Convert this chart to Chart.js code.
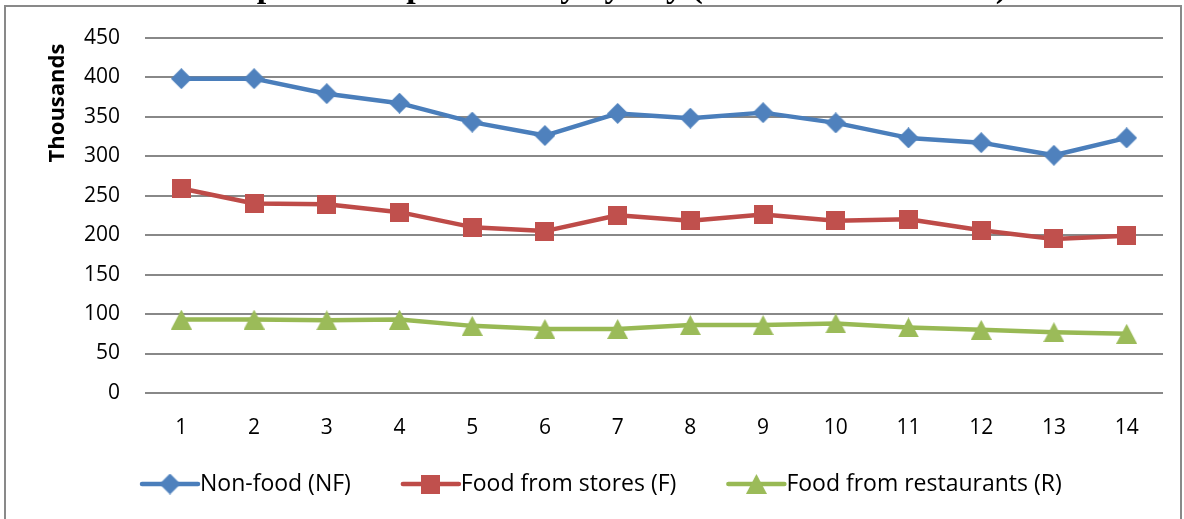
<!DOCTYPE html>
<html>
<head>
<meta charset="utf-8">
<script src="https://cdn.jsdelivr.net/npm/chart.js@4.4.1/dist/chart.umd.min.js"></script>
<style>
  html, body { margin: 0; padding: 0; background: #fff; overflow: hidden; }
  #wrap { width: 1184px; height: 519px; position: relative; }
</style>
</head>
<body>
<div id="wrap"><canvas id="c" width="1184" height="519"></canvas></div>
<script>
// Daily expenditure, in thousands
const days = ['1', '2', '3', '4', '5', '6', '7', '8', '9', '10', '11', '12', '13', '14'];
const nonFood = [398, 398, 379, 367, 343, 326, 354, 348, 355, 342, 323, 317, 301, 323];
const foodStores = [259, 240, 239, 229, 210, 205, 225, 218, 226, 218, 220, 206, 195, 199];
const foodRestaurants = [93, 93, 92, 93, 85, 81, 81, 86, 86, 88, 83, 80, 77, 75];
const seriesNames = ['Non-food (NF)', 'Food from stores (F)', 'Food from restaurants (R)'];
const yMin = 0, yMax = 450, yStep = 50;
const titleText = 'Expenditure per country by day (thousands of dollars)';
const axisTitle = 'Thousands';

const FONT = '"Open Sans", "DejaVu Sans", sans-serif';
const colors = {
  nf: { line: '#4A7EBB', fill: '#4F81BD' },
  f:  { line: '#BE4B48', fill: '#C0504D' },
  r:  { line: '#98B954', fill: '#9BBB59' }
};

// Marker images: shapes centred in their own box
function marker(shape, color) {
  const c = document.createElement('canvas');
  const g = c.getContext('2d');
  if (shape === 'diamond') {
    c.width = 21; c.height = 21;
    g.fillStyle = color;
    g.beginPath();
    g.moveTo(10.5, 0); g.lineTo(21, 10.5); g.lineTo(10.5, 21); g.lineTo(0, 10.5);
    g.closePath(); g.fill();
  } else if (shape === 'square') {
    c.width = 19; c.height = 19;
    g.fillStyle = color;
    g.fillRect(0, 0, 19, 19);
  } else {
    c.width = 21; c.height = 20;
    g.fillStyle = color;
    g.beginPath();
    g.moveTo(10.5, 0); g.lineTo(21, 20); g.lineTo(0, 20);
    g.closePath(); g.fill();
  }
  return c;
}

const markers = [
  marker('diamond', colors.nf.fill),
  marker('square', colors.f.fill),
  marker('triangle', colors.r.fill)
];

function lineSet(label, data, col, mk) {
  return {
    label: label,
    data: data,
    borderColor: col.line,
    backgroundColor: col.fill,
    borderWidth: 4.5,
    borderJoinStyle: 'round',
    borderCapStyle: 'round',
    pointStyle: mk,
    pointRadius: 10,
    pointHoverRadius: 10,
    tension: 0,
    fill: false
  };
}

// Frame, clipped title and page background
const framePlugin = {
  id: 'frame',
  beforeDraw(chart) {
    const ctx = chart.ctx;
    ctx.save();
    ctx.fillStyle = '#fff';
    ctx.fillRect(0, 0, chart.width, chart.height);
    ctx.font = 'bold 34px "Liberation Serif", "Times New Roman", serif';
    ctx.fillStyle = '#000';
    ctx.textAlign = 'center';
    ctx.textBaseline = 'alphabetic';
    ctx.fillText(titleText, 612, -3);
    ctx.strokeStyle = '#898989';
    ctx.lineWidth = 2;
    ctx.strokeRect(5, 6, 1176, 600);
    ctx.restore();
  }
};

// Rotated axis title and legend row with line + marker icons
const extrasPlugin = {
  id: 'extras',
  afterDraw(chart) {
    const ctx = chart.ctx;
    ctx.save();
    ctx.fillStyle = '#000';
    ctx.font = 'bold 22px ' + FONT;
    ctx.translate(58, 103);
    ctx.rotate(-Math.PI / 2);
    ctx.textAlign = 'center';
    ctx.textBaseline = 'middle';
    ctx.fillText(axisTitle, 0, 0);
    ctx.restore();

    ctx.save();
    ctx.font = '23px ' + FONT;
    ctx.textBaseline = 'middle';
    ctx.textAlign = 'left';
    let x = 140;
    const y = 484;
    chart.data.datasets.forEach((ds, i) => {
      ctx.strokeStyle = ds.borderColor;
      ctx.lineWidth = 4.5;
      ctx.lineCap = 'round';
      ctx.beginPath();
      ctx.moveTo(x + 2, y);
      ctx.lineTo(x + 58, y);
      ctx.stroke();
      const img = markers[i];
      ctx.drawImage(img, x + 30 - img.width / 2, y - img.height / 2);
      ctx.fillStyle = '#000';
      ctx.fillText(ds.label, x + 60, y);
      x += 60 + ctx.measureText(ds.label).width + 50;
    });
    ctx.restore();
  }
};

new Chart(document.getElementById('c'), {
  type: 'line',
  data: {
    labels: days,
    datasets: [
      lineSet(seriesNames[0], nonFood, colors.nf, markers[0]),
      lineSet(seriesNames[1], foodStores, colors.f, markers[1]),
      lineSet(seriesNames[2], foodRestaurants, colors.r, markers[2])
    ]
  },
  options: {
    responsive: false,
    devicePixelRatio: 1,
    animation: false,
    layout: { padding: { left: 0, right: 21, top: 34, bottom: 56 } },
    plugins: {
      legend: { display: false },
      tooltip: { enabled: false },
      title: { display: false }
    },
    scales: {
      x: {
        offset: true,
        grid: { display: false },
        border: { display: false },
        ticks: { color: '#000', font: { family: FONT, size: 21 }, padding: 14, maxRotation: 0 },
        afterFit(scale) { scale.height = 70; }
      },
      y: {
        min: yMin,
        max: yMax,
        grid: { color: '#888888', lineWidth: 2, drawTicks: false },
        border: { display: false },
        ticks: { stepSize: yStep, color: '#000', font: { family: FONT, size: 21 }, padding: 25 },
        afterFit(scale) { scale.width = 145; }
      }
    }
  },
  plugins: [framePlugin, extrasPlugin]
});
</script>
</body>
</html>
